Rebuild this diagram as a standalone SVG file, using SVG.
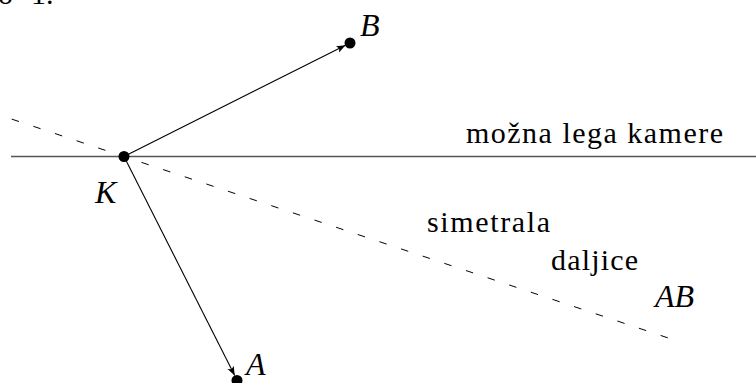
<svg xmlns="http://www.w3.org/2000/svg" width="756" height="383" viewBox="0 0 756 383">
<defs>
  <marker id="head" markerUnits="userSpaceOnUse" markerWidth="10" markerHeight="8" refX="9" refY="3.5" orient="auto">
    <path d="M0,0 L9,3.5 L0,7 L2,3.5 z" fill="#000"/>
  </marker>
</defs>
<rect width="756" height="383" fill="#fff"/>
<text style="font-family:'Liberation Serif',serif;font-size:30px" x="-2" y="4">o<tspan x="31">1.</tspan></text>
<g id="connectors">
  <line id="camera-line" x1="11" y1="156.5" x2="756" y2="156.5" stroke="#555" stroke-width="1.5"/>
  <line id="bisector" x1="11.7" y1="119.1" x2="675.5" y2="340.4" stroke="#000" stroke-width="1" stroke-dasharray="7.6 15.2"/>
  <line id="KB" x1="124" y1="156.5" x2="345.5" y2="45.3" stroke="#000" stroke-width="1.1" marker-end="url(#head)"/>
  <line id="KA" x1="124" y1="156.5" x2="234.7" y2="375.5" stroke="#000" stroke-width="1.1" marker-end="url(#head)"/>
</g>
<g id="K">
  <circle cx="124" cy="156.5" r="5.5" fill="#000"/>
  <text style="font-family:'Liberation Serif',serif;font-style:italic;font-size:32px" x="95" y="203">K</text>
</g>
<g id="B">
  <circle cx="350" cy="43" r="5.5" fill="#000"/>
  <text style="font-family:'Liberation Serif',serif;font-style:italic;font-size:32px" x="360" y="36">B</text>
</g>
<g id="A">
  <circle cx="237" cy="380.5" r="5.5" fill="#000"/>
  <text style="font-family:'Liberation Serif',serif;font-style:italic;font-size:32px" x="246" y="375">A</text>
</g>
<g id="label-camera">
  <text style="font-family:'Liberation Serif',serif;font-size:30px" x="466" y="143" textLength="257">mo&#382;na lega kamere</text>
</g>
<g id="label-bisector">
  <text style="font-family:'Liberation Serif',serif;font-size:30px" x="427" y="232" textLength="123">simetrala</text>
  <text style="font-family:'Liberation Serif',serif;font-size:30px" x="551" y="270" textLength="87">daljice</text>
  <text style="font-family:'Liberation Serif',serif;font-style:italic;font-size:32px" x="655" y="307">AB</text>
</g>
</svg>
